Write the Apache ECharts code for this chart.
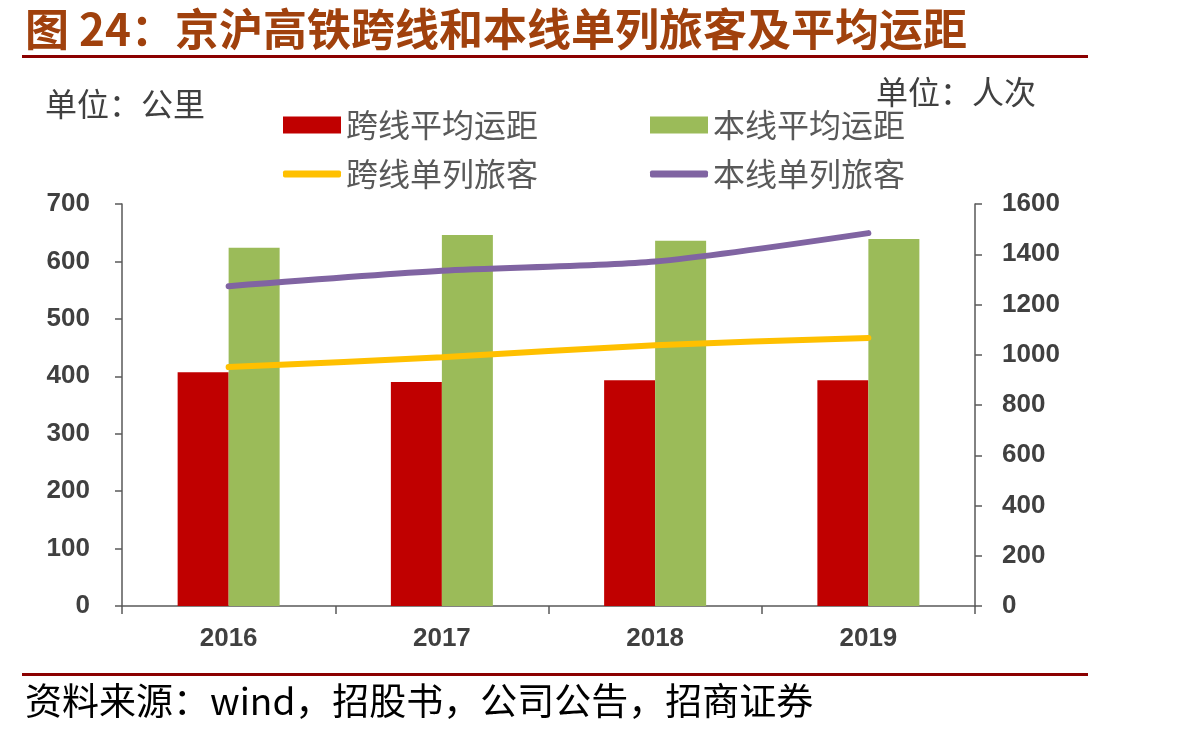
<!DOCTYPE html>
<html>
<head>
<meta charset="utf-8">
<script src="https://cdn.jsdelivr.net/npm/echarts@6/dist/echarts.min.js"></script>
<style>
  html, body { margin: 0; padding: 0; background: #fff; }
  #chart { width: 1198px; height: 735px; }
</style>
</head>
<body>
<div id="chart"></div>
<script>
  // 数据:从图上读出来的估计值
  const years = ['2016', '2017', '2018', '2019'];
  const crossDist = [407, 390, 393, 393];       // 跨线平均运距(公里)
  const localDist = [624, 646, 636, 639];       // 本线平均运距(公里)
  const crossPax = [951, 990, 1038, 1067];      // 跨线单列旅客(人次)
  const localPax = [1273, 1334, 1371, 1484];    // 本线单列旅客(人次)

  const RED = '#C00000', GREEN = '#9BBB59', YELLOW = '#FFC000', PURPLE = '#8064A2';
  const AXIS = '#595959', LABEL = '#404040';
  const CJK = '"Noto Sans CJK SC", sans-serif';
  const NUM = '"Liberation Sans", Arial, sans-serif';

  const chart = echarts.init(document.getElementById('chart'));

  function legendAt(name, left, top, line) {
    return {
      left, top, data: [name],
      icon: line ? 'roundRect' : 'rect',
      itemWidth: 58, itemHeight: line ? 7 : 17, itemGap: 0,
      textStyle: { fontFamily: CJK, fontSize: 32, color: '#595959' },
      selectedMode: false,
    };
  }

  const valueAxis = {
    axisLine: { show: true, lineStyle: { color: AXIS, width: 1.5 } },
    axisTick: { show: true, length: 7, lineStyle: { color: AXIS, width: 1.5 } },
    splitLine: { show: false },
    axisLabel: { fontFamily: NUM, fontWeight: 'bold', fontSize: 26, color: LABEL, formatter: (v) => String(v) },
  };

  chart.setOption({
    animation: false,
    title: {
      text: '图 24：京沪高铁跨线和本线单列旅客及平均运距',
      left: 20, top: 2,
      textStyle: { fontFamily: CJK, fontSize: 44, fontWeight: 'bold', color: '#A0410D' },
    },
    legend: [
      legendAt('跨线平均运距', 278, 104, false),
      legendAt('本线平均运距', 645, 104, false),
      legendAt('跨线单列旅客', 278, 153, true),
      legendAt('本线单列旅客', 645, 153, true),
    ],
    grid: { left: 122, right: 223, top: 204, bottom: 129 },
    xAxis: {
      type: 'category', data: years, boundaryGap: true,
      axisLine: { lineStyle: { color: AXIS, width: 1.5 } },
      axisTick: { show: true, length: 8, lineStyle: { color: AXIS, width: 1.5 } },
      axisLabel: { fontFamily: NUM, fontWeight: 'bold', fontSize: 26, color: LABEL, margin: 20 },
    },
    yAxis: [
      Object.assign({}, valueAxis, {
        type: 'value', min: 0, max: 700, interval: 100, position: 'left',
        axisLabel: Object.assign({}, valueAxis.axisLabel, { margin: 32 }),
      }),
      Object.assign({}, valueAxis, {
        type: 'value', min: 0, max: 1600, interval: 200, position: 'right',
        axisLabel: Object.assign({}, valueAxis.axisLabel, { margin: 27 }),
      }),
    ],
    series: [
      { name: '跨线平均运距', type: 'bar', data: crossDist, barWidth: 51, barGap: '0%',
        itemStyle: { color: RED } },
      { name: '本线平均运距', type: 'bar', data: localDist, barWidth: 51, barGap: '0%',
        itemStyle: { color: GREEN } },
      { name: '跨线单列旅客', type: 'line', yAxisIndex: 1, data: crossPax, symbol: 'none',
        smooth: 0.25, lineStyle: { color: YELLOW, width: 6, cap: 'round' }, itemStyle: { color: YELLOW } },
      { name: '本线单列旅客', type: 'line', yAxisIndex: 1, data: localPax, symbol: 'none',
        smooth: 0.25, lineStyle: { color: PURPLE, width: 6, cap: 'round' }, itemStyle: { color: PURPLE } },
    ],
    graphic: [
      { type: 'rect', shape: { x: 22, y: 55, width: 1066, height: 3 }, style: { fill: '#8B0000' } },
      { type: 'rect', shape: { x: 22, y: 673, width: 1066, height: 3 }, style: { fill: '#8B0000' } },
      { type: 'text', left: 45, top: 88,
        style: { text: '单位：公里', font: '32px ' + CJK, fill: LABEL } },
      { type: 'text', left: 876, top: 76,
        style: { text: '单位：人次', font: '32px ' + CJK, fill: LABEL } },
      { type: 'text', left: 25, top: 682,
        style: { text: '资料来源：wind，招股书，公司公告，招商证券', font: '37px ' + CJK, fill: '#000' } },
    ],
  });
</script>
</body>
</html>
